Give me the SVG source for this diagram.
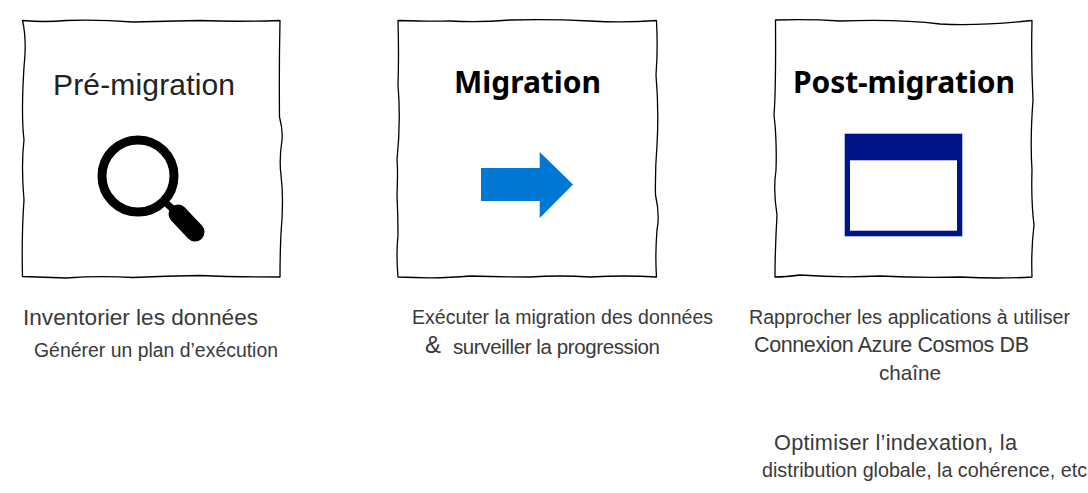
<svg xmlns="http://www.w3.org/2000/svg" width="1088" height="493" viewBox="0 0 1088 493">
<style>
.frame{fill:#fff;stroke:#000;stroke-width:1.3;stroke-linejoin:round}
.h{font-family:"Noto Sans","Open Sans",sans-serif;font-weight:700;font-size:30px;fill:#000}
.t{font-family:"Liberation Sans",Arial,sans-serif;fill:#3a3a3a}
</style>
<rect width="1088" height="493" fill="#fff"/>
<g id="pre-migration">
<path class="frame" d="M22.5 20.5 Q45 22.5 66 20.5 Q100 19.5 133 22 Q165 21 200 20.5 Q235 22 280 20.5 Q279 65 279.5 117 Q283 130 282 140 Q279 160 281 175 Q284 200 281 233 Q280 255 280 277 Q235 277 200 275.5 Q165 276 133 277.5 Q100 275.5 66 278 Q45 277 22.5 276.5 Q21.5 235 24 200 Q21 165 24 140 Q21 115 24 67 Q27 40 22.5 20.5 Z"/>
<text class="t" x="53" y="95" font-size="30" style="fill:#222" textLength="182">Pré-migration</text>
<circle cx="138" cy="176" r="36" fill="none" stroke="#000" stroke-width="9"/>
<path d="M165 202 L178 214" stroke="#000" stroke-width="7" fill="none"/>
<path d="M178 214 L195 232" stroke="#000" stroke-width="19" stroke-linecap="round" fill="none"/>
<text class="t" x="23" y="325" font-size="22.6" textLength="235">Inventorier les données</text>
<text class="t" x="34" y="357" font-size="19.4" textLength="244">Générer un plan d’exécution</text>
</g>
<g id="migration">
<path class="frame" d="M398 20.5 Q430 21.5 450 21 Q480 22.5 510 20 Q550 19 590 21 Q625 23 656.5 20.5 Q658 50 656 75 Q659 110 657 145 Q655 170 655.5 195 Q660 215 657 230 Q655 255 656.5 277 Q625 275 590 277 Q560 275 530 277 Q500 277 470 276 Q440 279 398 277 Q396 255 398 235 Q398 215 397 195 Q398 170 397 160 Q401 120 398 85 Q399 55 398 20.5 Z"/>
<text class="h" x="454" y="93" textLength="147">Migration</text>
<path id="arrow" fill="#0078d4" d="M481 168 H539.7 V152 L573 184.5 L539.7 218 V201 H481 Z"/>
<text class="t" x="412" y="324" font-size="19.5" textLength="301">Exécuter la migration des données</text>
<text class="t" x="425" y="353" font-size="24">&amp;</text>
<text class="t" x="453" y="354" font-size="20.5" textLength="207">surveiller la progression</text>
</g>
<g id="post-migration">
<path class="frame" d="M775.5 20 Q810 19 840 21 Q900 19 940 24 Q980 26 1032 20.5 Q1031 60 1033 100 Q1030 140 1032 170 Q1031 200 1034 225 Q1031 250 1032 277 Q1000 279 960 277 Q920 278 880 276 Q840 278 800 275 Q785 277 775 277 Q775 250 777 215 Q773 190 776 170 Q777 140 774 115 Q776 90 775.5 20 Z"/>
<text class="h" x="793" y="93" textLength="222">Post-migration</text>
<g id="window">
<rect x="844.7" y="133.7" width="117.6" height="102.6" fill="#001489"/>
<rect x="850" y="160.3" width="107" height="70.4" fill="#fff"/>
</g>
<text class="t" x="749" y="324" font-size="19.6" textLength="321">Rapprocher les applications à utiliser</text>
<text class="t" x="754" y="352" font-size="21.5" textLength="275">Connexion Azure Cosmos DB</text>
<text class="t" x="879" y="380" font-size="20.7" textLength="62">chaîne</text>
<text class="t" x="774" y="450" font-size="21.7" textLength="243">Optimiser l’indexation, la</text>
<text class="t" x="762" y="477" font-size="19.7" textLength="325">distribution globale, la cohérence, etc</text>
</g>
</svg>
